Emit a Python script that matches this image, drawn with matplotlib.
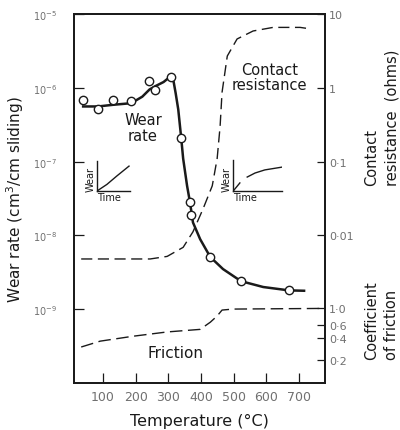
import matplotlib
matplotlib.use("Agg")
import matplotlib.pyplot as plt
from matplotlib.ticker import FixedLocator, FixedFormatter, NullLocator

# wear rate measurements (cm^3/cm sliding) against temperature (deg C)
wear_temp = [39, 85, 131, 186, 242, 259, 308, 339, 366, 369, 428, 522, 669]
wear_rate = [6.8e-7, 5.1e-7, 6.8e-7, 6.6e-7, 1.23e-6, 9.3e-7, 1.41e-6,
             2.1e-7, 2.8e-8, 1.9e-8, 5.1e-9, 2.4e-9, 1.8e-9]

# faired curve through the wear points
fit_temp = [39, 85, 131, 186, 220, 242, 259, 285, 308, 312, 316, 322, 330, 339,
            345, 357, 366, 375, 397, 428, 467, 522, 590, 669, 715]
fit_rate = [5.6e-7, 5.6e-7, 5.9e-7, 6.2e-7, 7.6e-7, 9.5e-7, 1.05e-6, 1.2e-6,
            1.45e-6, 1.38e-6, 1.2e-6, 8.5e-7, 5.1e-7, 2.1e-7, 1.1e-7, 4.7e-8,
            2.8e-8, 1.5e-8, 8.9e-9, 5.1e-9, 3.5e-9, 2.4e-9, 2.0e-9, 1.8e-9,
            1.78e-9]

# contact resistance (ohms)
res_temp = [33, 120, 244, 296, 345, 375, 406, 434, 449, 458, 464, 480, 510,
            559, 620, 703, 734]
res_ohms = [0.0048, 0.0048, 0.0048, 0.0052, 0.0069, 0.0112, 0.023, 0.047,
            0.11, 0.30, 0.87, 2.7, 4.6, 5.9, 6.6, 6.6, 6.3]

# coefficient of friction
fric_temp = [33, 91, 192, 296, 397, 428, 449, 464, 498, 773]
fric_coef = [0.30, 0.36, 0.42, 0.48, 0.52, 0.65, 0.79, 0.95, 0.98, 1.0]

temp_ticks = [100, 200, 300, 400, 500, 600, 700]
wear_ticks = [1e-9, 1e-8, 1e-7, 1e-6, 1e-5]
wear_labels = ["$10^{-9}$", "$10^{-8}$", "$10^{-7}$", "$10^{-6}$", "$10^{-5}$"]
res_ticks = [10, 1, 0.1, 0.01]
res_labels = ["10", "1", "0·1", "0·01"]
fric_ticks = [1.0, 0.6, 0.4, 0.2]
fric_labels = ["1·0", "0·6", "0·4", "0·2"]

INK = "#1a1a1a"
GREY = "#707070"

fig = plt.figure(figsize=(4.0, 4.31), dpi=100)
ax = fig.add_axes([0.185, 0.109, 0.6275, 0.856])

ax.set_yscale("log")
ax.set_xlim(11, 779)
ax.set_ylim(1e-10, 1e-5)

ax.plot(fit_temp, fit_rate, color=INK, lw=1.8, zorder=3)
ax.plot(wear_temp, wear_rate, "o", ms=6, mfc="white", mec=INK, mew=1.0,
        zorder=4)

ax.xaxis.set_major_locator(FixedLocator(temp_ticks))
ax.xaxis.set_minor_locator(NullLocator())
ax.yaxis.set_major_locator(FixedLocator(wear_ticks))
ax.yaxis.set_major_formatter(FixedFormatter(wear_labels))
ax.yaxis.set_minor_locator(NullLocator())
ax.tick_params(direction="in", length=7, width=0.9, colors=INK,
               labelcolor=GREY, labelsize=7)
ax.tick_params(axis="y", pad=12)
ax.tick_params(axis="x", pad=5, labelsize=9)
ax.set_xlabel("Temperature (°C)", fontsize=11.5, color=INK, labelpad=7)
ax.set_ylabel("Wear rate (cm$^3$/cm sliding)", fontsize=11, color=INK,
              labelpad=5)

# contact resistance on its own log scale against the right spine
ax_res = ax.twinx()
ax_res.set_yscale("log")
ax_res.set_ylim(1e-4, 10)
ax_res.plot(res_temp, res_ohms, color=INK, lw=1.0, dashes=(8, 4))
ax_res.yaxis.set_major_locator(FixedLocator(res_ticks))
ax_res.yaxis.set_major_formatter(FixedFormatter(res_labels))
ax_res.yaxis.set_minor_locator(NullLocator())

# coefficient of friction, also logarithmic, sharing the right spine
ax_fric = ax.twinx()
ax_fric.set_yscale("log")
ax_fric.set_ylim(0.0975, 9750)
ax_fric.plot(fric_temp, fric_coef, color=INK, lw=1.0, dashes=(9, 4))
ax_fric.yaxis.set_major_locator(FixedLocator(fric_ticks))
ax_fric.yaxis.set_major_formatter(FixedFormatter(fric_labels))
ax_fric.yaxis.set_minor_locator(NullLocator())

for a in (ax_res, ax_fric):
    a.tick_params(direction="in", length=6, width=0.9, colors=INK,
                  labelcolor=GREY, labelsize=8, pad=3)

for a in (ax, ax_res, ax_fric):
    for s in a.spines.values():
        s.set_linewidth(1.1)
        s.set_color(INK)

ax.text(222, 2.9e-7, "Wear\nrate", ha="center", va="center", fontsize=10.5,
        color=INK, linespacing=1.05)
ax.text(610, 1.4e-6, "Contact\nresistance", ha="center", va="center",
        fontsize=10.5, color=INK, linespacing=1.05)
ax.text(323, 2.6e-10, "Friction", ha="center", va="center", fontsize=11,
        color=INK)

# right-hand axis titles
fig.text(0.928, 1 - 186 / 431, "Contact", rotation=90, ha="center",
         va="bottom", fontsize=10.5, color=INK)
fig.text(0.980, 1 - 186 / 431, "resistance  (ohms)", rotation=90,
         ha="center", va="bottom", fontsize=10.5, color=INK)
fig.text(0.928, 1 - 360 / 431, "Coefficient", rotation=90, ha="center",
         va="bottom", fontsize=10.5, color=INK)
fig.text(0.980, 1 - 360 / 431, "of friction", rotation=90, ha="center",
         va="bottom", fontsize=10.5, color=INK)


def sketch(rect, segments):
    """Small wear-vs-time sketch with bare axes."""
    a = fig.add_axes(rect)
    for xs, ys in segments:
        a.plot(xs, ys, color=INK, lw=1.0)
    a.set_xlim(0, 1)
    a.set_ylim(0, 1)
    a.set_xticks([])
    a.set_yticks([])
    a.patch.set_alpha(0)
    for side in ("top", "right"):
        a.spines[side].set_visible(False)
    for side in ("left", "bottom"):
        a.spines[side].set_linewidth(1.0)
        a.spines[side].set_color(INK)
    a.set_xlabel("Time", fontsize=7, color=INK, labelpad=1, loc="left")
    a.set_ylabel("Wear", fontsize=7, color=INK, labelpad=1, loc="bottom")
    return a


# steady wear below the transition
sketch([0.2425, 0.5545, 0.0825, 0.0696],
       [([0.0, 0.3, 0.6, 0.97], [0.0, 0.22, 0.5, 0.83])])
# run-in then low wear above it
sketch([0.5825, 0.5545, 0.1225, 0.072],
       [([0.02, 0.14], [0.03, 0.26]),
        ([0.29, 0.45, 0.65, 1.0], [0.45, 0.58, 0.68, 0.77])])

fig.savefig("out.png", dpi=100)
